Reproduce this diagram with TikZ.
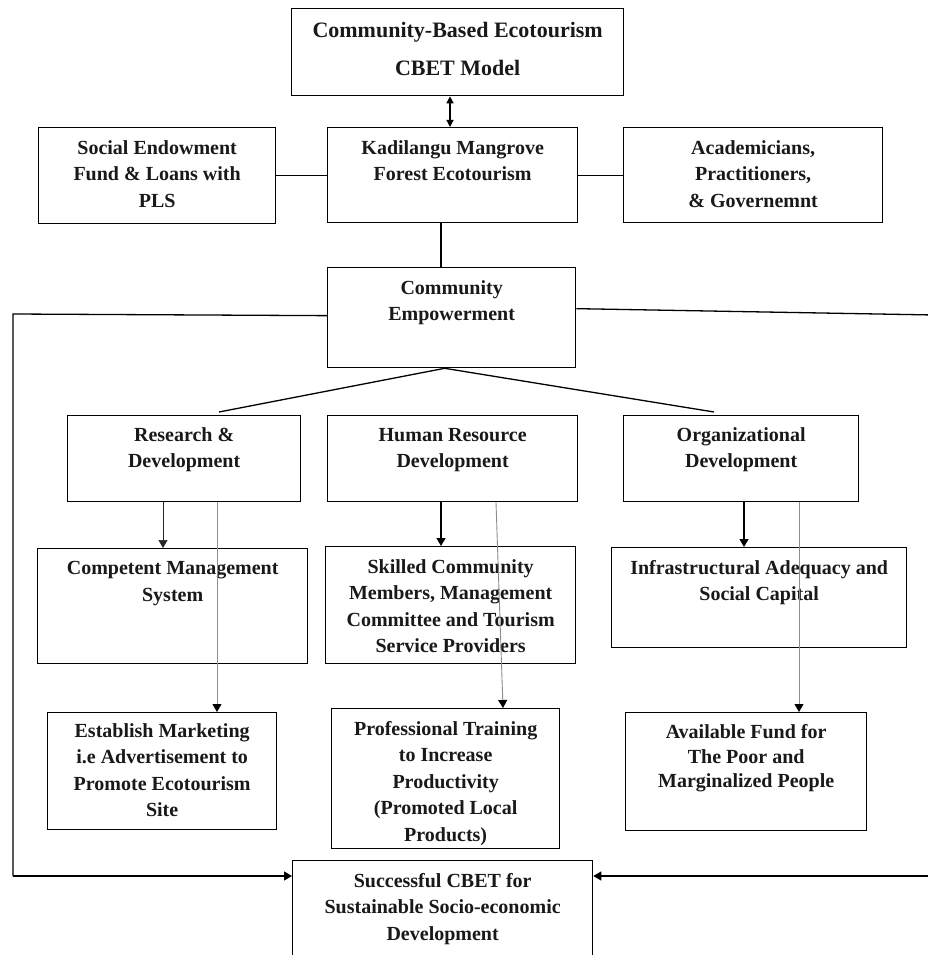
\documentclass[tikz,border=0pt]{standalone}
\usepackage{fontspec}
\setmainfont{Liberation Serif}
\usetikzlibrary{arrows.meta}
\begin{document}
\begin{tikzpicture}[x=1pt,y=-1pt,
  box/.style={draw, line width=1.3pt, inner sep=0pt, anchor=north west},
  txt/.style={font=\fontsize{20}{26.5}\selectfont\bfseries, align=center, inner sep=0pt, anchor=north, text=black!90},
  conn/.style={line width=1.3pt},
  tip/.style={-{Triangle[length=8pt,width=9pt]}},
  thinarr/.style={line width=0.7pt, black!85, -{Triangle[length=8pt,width=9pt]}},
  grayarr/.style={line width=0.9pt, black!45, -{Triangle[length=8pt,width=9pt,black]}}]
\useasboundingbox (0,0) rectangle (928,955);
\fill[white] (0,0) rectangle (928,955);
% boxes
\node[box, minimum width=332pt, minimum height=87pt] (cbet) at (291,8) {};
\node[box, minimum width=237pt, minimum height=96pt] (soc) at (38,127) {};
\node[box, minimum width=250pt, minimum height=95pt] (kad) at (327,127) {};
\node[box, minimum width=259pt, minimum height=95pt] (acad) at (623,127) {};
\node[box, minimum width=248pt, minimum height=100pt] (ce) at (327,267) {};
\node[box, minimum width=233pt, minimum height=86pt] (rd) at (67,415) {};
\node[box, minimum width=250pt, minimum height=86pt] (hr) at (327,415) {};
\node[box, minimum width=235pt, minimum height=86pt] (od) at (623,415) {};
\node[box, minimum width=270pt, minimum height=115pt] (cms) at (37,548) {};
\node[box, minimum width=250pt, minimum height=117pt] (scm) at (325,546) {};
\node[box, minimum width=295pt, minimum height=100pt] (infra) at (611,547) {};
\node[box, minimum width=229pt, minimum height=117pt] (est) at (47,712) {};
\node[box, minimum width=228pt, minimum height=140pt] (prof) at (331,708) {};
\node[box, minimum width=241pt, minimum height=118pt] (avail) at (625,712) {};
\node[box, minimum width=300pt, minimum height=120pt] (succ) at (292,860) {};
% texts
\node[txt, font=\fontsize{22}{38}\selectfont\bfseries] (tcbet) at ([yshift=-2.4pt]cbet.north) {\strut Community-Based Ecotourism\\CBET Model};
\node[txt] (tsoc) at ([yshift=-8.5pt]soc.north) {\strut Social Endowment\\Fund \& Loans with\\PLS};
\node[txt] (tkad) at ([yshift=-8.5pt]kad.north) {\strut Kadilangu Mangrove\\Forest Ecotourism};
\node[txt] (tacad) at ([yshift=-8.5pt]acad.north) {\strut Academicians,\\Practitioners,\\\& Governemnt};
\node[txt] (tce) at ([yshift=-8.5pt]ce.north) {\strut Community\\Empowerment};
\node[txt] (trd) at ([yshift=-7.5pt]rd.north) {\strut Research \&\\Development};
\node[txt] (thr) at ([yshift=-7.5pt]hr.north) {\strut Human Resource\\Development};
\node[txt] (tod) at ([yshift=-7.5pt]od.north) {\strut Organizational\\Development};
\node[txt] (tcms) at ([yshift=-8pt]cms.north) {\strut Competent Management\\System};
\node[txt] (tscm) at ([yshift=-8.5pt]scm.north) {\strut Skilled Community\\Members, Management\\Committee and Tourism\\Service Providers};
\node[txt] (tinfra) at ([yshift=-8.5pt]infra.north) {\strut Infrastructural Adequacy and\\Social Capital};
\node[txt] (test) at ([yshift=-6.5pt]est.north) {\strut Establish Marketing\\i.e Advertisement to\\Promote Ecotourism\\Site};
\node[txt] (tprof) at ([yshift=-8.5pt]prof.north) {\strut Professional Training\\to Increase\\Productivity\\(Promoted Local\\Products)};
\node[txt, font=\fontsize{20}{24.5}\selectfont\bfseries] (tavail) at ([yshift=-9.5pt]avail.north) {\strut Available Fund for\\The Poor and\\Marginalized People};
\node[txt] (tsucc) at ([yshift=-8.5pt]succ.north) {\strut Successful CBET for\\Sustainable Socio-economic\\Development};
% helper coordinates
\coordinate (xa) at (450,0);
\coordinate (xk) at (441,0);
\coordinate (L1) at (13,314);
\coordinate (L2) at (13,876);
\coordinate (R1) at (934,315);
\coordinate (R2) at (934,876);
\coordinate (F1) at (219,412);
\coordinate (F2) at (714,412);
\coordinate (a1) at (163,0);
\coordinate (a2) at (217,0);
\coordinate (a3) at (441,0);
\coordinate (a4) at (496,0);
\coordinate (a5) at (503,0);
\coordinate (a6) at (744,0);
\coordinate (a7) at (799,0);
% connectors
\draw[conn, {Triangle[length=7pt,width=7pt]}-{Triangle[length=7pt,width=7pt]}] (cbet.south -| xa) -- (kad.north -| xa);
\draw[conn] (soc.east) -- (soc.east -| kad.west);
\draw[conn] (kad.east |- acad.west) -- (acad.west);
\draw[conn] (kad.south -| xk) -- (ce.north -| xk);
\draw[conn] (F1) -- ([xshift=-7pt]ce.south) -- (F2);
\draw[conn] ([yshift=2pt]ce.west) -- (L1) -- (L2);
\draw[conn, tip] (L2) -- (L2 -| succ.west);
\draw[conn] ([yshift=9pt]ce.east) -- (R1) -- (R2);
\draw[conn, tip] (R2) -- (R2 -| succ.east);
\draw[thinarr] (rd.south -| a1) -- (cms.north -| a1);
\draw[grayarr] (rd.south -| a2) -- (est.north -| a2);
\draw[conn, tip] (hr.south -| a3) -- (scm.north -| a3);
\draw[grayarr] (hr.south -| a4) -- (prof.north -| a5);
\draw[conn, tip] (od.south -| a6) -- (infra.north -| a6);
\draw[grayarr] (od.south -| a7) -- (avail.north -| a7);
\end{tikzpicture}
\end{document}
